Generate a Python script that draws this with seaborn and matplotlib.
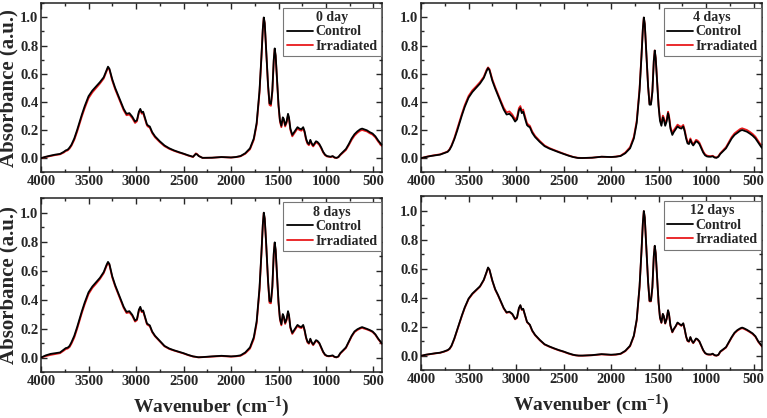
import numpy as np
import pandas as pd
import matplotlib
matplotlib.use('Agg')
import matplotlib.pyplot as plt
from matplotlib.ticker import MultipleLocator
import seaborn as sns

# Wavenumber grid (cm-1)
wavenumber = [
    4000, 3950, 3900, 3850, 3800, 3760, 3740, 3720, 3700, 3680,
    3650, 3620, 3600, 3570, 3540, 3500, 3460, 3420, 3380, 3340,
    3310, 3295, 3280, 3250, 3220, 3190, 3160, 3130, 3100, 3070,
    3040, 3010, 2990, 2970, 2955, 2940, 2925, 2905, 2885, 2870,
    2855, 2830, 2800, 2750, 2700, 2650, 2600, 2550, 2500, 2450,
    2400, 2370, 2355, 2340, 2300, 2200, 2100, 2000, 1950, 1900,
    1850, 1800, 1760, 1730, 1700, 1680, 1665, 1655, 1645, 1630,
    1610, 1595, 1580, 1565, 1550, 1540, 1530, 1515, 1500, 1485,
    1470, 1455, 1445, 1430, 1415, 1400, 1390, 1375, 1355, 1340,
    1320, 1300, 1280, 1260, 1240, 1225, 1210, 1195, 1180, 1165,
    1150, 1135, 1120, 1105, 1090, 1070, 1050, 1030, 1010, 990,
    970, 950, 930, 910, 890, 870, 850, 820, 790, 760,
    730, 700, 670, 640, 620, 600, 570, 540, 510, 480,
    450, 420, 400,
]

# 0 day
control_0 = [
    0.000, 0.010, 0.018, 0.025, 0.030, 0.045, 0.055, 0.060, 0.075, 0.095,
    0.140, 0.200, 0.245, 0.310, 0.370, 0.440, 0.480, 0.510, 0.540, 0.575,
    0.625, 0.650, 0.635, 0.560, 0.500, 0.450, 0.400, 0.350, 0.315, 0.320,
    0.295, 0.260, 0.270, 0.330, 0.350, 0.325, 0.330, 0.285, 0.240, 0.230,
    0.225, 0.185, 0.155, 0.120, 0.090, 0.070, 0.055, 0.043, 0.032, 0.020,
    0.010, 0.030, 0.025, 0.015, 0.002, 0.003, 0.008, 0.005, 0.008, 0.015,
    0.035, 0.070, 0.140, 0.250, 0.480, 0.720, 0.920, 1.000, 0.960, 0.780,
    0.520, 0.390, 0.385, 0.480, 0.700, 0.780, 0.730, 0.560, 0.380, 0.270,
    0.230, 0.290, 0.280, 0.235, 0.260, 0.315, 0.290, 0.210, 0.165, 0.180,
    0.200, 0.220, 0.210, 0.205, 0.220, 0.190, 0.140, 0.110, 0.100, 0.130,
    0.105, 0.090, 0.105, 0.120, 0.115, 0.100, 0.075, 0.045, 0.025, 0.015,
    0.012, 0.010, 0.015, 0.005, 0.002, 0.008, 0.025, 0.045, 0.065, 0.100,
    0.140, 0.170, 0.190, 0.205, 0.210, 0.205, 0.198, 0.185, 0.175, 0.155,
    0.125, 0.100, 0.085,
]
irradiated_0 = [
    0.000, 0.008, 0.015, 0.022, 0.027, 0.040, 0.050, 0.055, 0.068, 0.088,
    0.130, 0.188, 0.232, 0.297, 0.356, 0.426, 0.467, 0.498, 0.530, 0.566,
    0.617, 0.643, 0.628, 0.550, 0.490, 0.440, 0.390, 0.340, 0.305, 0.310,
    0.285, 0.250, 0.262, 0.322, 0.342, 0.316, 0.320, 0.276, 0.232, 0.222,
    0.217, 0.178, 0.148, 0.114, 0.085, 0.066, 0.052, 0.040, 0.030, 0.018,
    0.008, 0.034, 0.028, 0.016, 0.002, 0.003, 0.007, 0.004, 0.007, 0.013,
    0.031, 0.063, 0.130, 0.238, 0.465, 0.710, 0.915, 0.997, 0.955, 0.772,
    0.510, 0.378, 0.372, 0.468, 0.690, 0.772, 0.722, 0.550, 0.370, 0.260,
    0.220, 0.280, 0.270, 0.225, 0.250, 0.305, 0.280, 0.200, 0.155, 0.170,
    0.190, 0.210, 0.200, 0.195, 0.210, 0.180, 0.130, 0.102, 0.092, 0.122,
    0.097, 0.083, 0.097, 0.112, 0.107, 0.093, 0.069, 0.040, 0.021, 0.012,
    0.010, 0.008, 0.012, 0.003, 0.001, 0.006, 0.021, 0.040, 0.058, 0.092,
    0.130, 0.160, 0.180, 0.195, 0.200, 0.196, 0.190, 0.177, 0.167, 0.147,
    0.117, 0.092, 0.078,
]

# 4 days
control_4 = [
    0.000, 0.008, 0.015, 0.020, 0.025, 0.035, 0.040, 0.045, 0.060, 0.085,
    0.135, 0.195, 0.240, 0.305, 0.365, 0.430, 0.470, 0.500, 0.530, 0.570,
    0.620, 0.640, 0.625, 0.550, 0.495, 0.445, 0.395, 0.345, 0.310, 0.315,
    0.295, 0.260, 0.275, 0.340, 0.355, 0.320, 0.330, 0.280, 0.235, 0.225,
    0.220, 0.180, 0.150, 0.115, 0.085, 0.068, 0.055, 0.042, 0.030, 0.018,
    0.008, 0.004, 0.002, 0.001, 0.001, 0.003, 0.010, 0.008, 0.010, 0.015,
    0.035, 0.070, 0.140, 0.250, 0.480, 0.720, 0.920, 1.000, 0.955, 0.770,
    0.510, 0.380, 0.380, 0.470, 0.690, 0.765, 0.710, 0.540, 0.370, 0.265,
    0.230, 0.290, 0.275, 0.230, 0.260, 0.320, 0.290, 0.210, 0.165, 0.185,
    0.205, 0.225, 0.215, 0.210, 0.225, 0.190, 0.140, 0.105, 0.100, 0.130,
    0.105, 0.090, 0.105, 0.120, 0.115, 0.100, 0.070, 0.040, 0.020, 0.012,
    0.010, 0.010, 0.013, 0.004, 0.002, 0.010, 0.030, 0.050, 0.070, 0.105,
    0.140, 0.165, 0.180, 0.195, 0.200, 0.195, 0.188, 0.175, 0.160, 0.140,
    0.110, 0.080, 0.065,
]
irradiated_4 = [
    0.000, 0.009, 0.016, 0.022, 0.027, 0.037, 0.042, 0.048, 0.064, 0.090,
    0.142, 0.204, 0.250, 0.316, 0.377, 0.442, 0.482, 0.510, 0.540, 0.578,
    0.628, 0.645, 0.632, 0.560, 0.505, 0.455, 0.405, 0.358, 0.325, 0.332,
    0.310, 0.275, 0.290, 0.355, 0.370, 0.335, 0.345, 0.295, 0.248, 0.237,
    0.230, 0.190, 0.158, 0.122, 0.090, 0.072, 0.058, 0.045, 0.032, 0.020,
    0.009, 0.005, 0.003, 0.002, 0.001, 0.003, 0.010, 0.008, 0.011, 0.017,
    0.040, 0.078, 0.152, 0.265, 0.495, 0.728, 0.922, 0.998, 0.950, 0.765,
    0.508, 0.385, 0.388, 0.478, 0.695, 0.765, 0.712, 0.548, 0.382, 0.280,
    0.245, 0.302, 0.290, 0.245, 0.272, 0.330, 0.302, 0.224, 0.178, 0.198,
    0.218, 0.238, 0.228, 0.222, 0.236, 0.202, 0.152, 0.116, 0.110, 0.140,
    0.115, 0.100, 0.114, 0.130, 0.125, 0.110, 0.079, 0.048, 0.027, 0.018,
    0.015, 0.014, 0.017, 0.008, 0.005, 0.014, 0.035, 0.057, 0.078, 0.114,
    0.150, 0.176, 0.192, 0.207, 0.212, 0.207, 0.200, 0.187, 0.172, 0.152,
    0.121, 0.090, 0.074,
]

# 8 days
control_8 = [
    0.000, 0.015, 0.025, 0.030, 0.035, 0.055, 0.065, 0.068, 0.080, 0.105,
    0.150, 0.210, 0.255, 0.320, 0.380, 0.450, 0.490, 0.520, 0.550, 0.590,
    0.640, 0.660, 0.645, 0.560, 0.500, 0.450, 0.400, 0.350, 0.315, 0.320,
    0.295, 0.255, 0.265, 0.330, 0.350, 0.320, 0.325, 0.280, 0.235, 0.228,
    0.222, 0.180, 0.150, 0.115, 0.080, 0.062, 0.050, 0.040, 0.030, 0.018,
    0.008, 0.005, 0.003, 0.002, 0.003, 0.008, 0.012, 0.008, 0.010, 0.015,
    0.035, 0.070, 0.140, 0.250, 0.480, 0.720, 0.920, 1.000, 0.960, 0.790,
    0.530, 0.390, 0.385, 0.490, 0.720, 0.795, 0.745, 0.570, 0.385, 0.270,
    0.230, 0.300, 0.285, 0.240, 0.265, 0.320, 0.295, 0.210, 0.170, 0.185,
    0.205, 0.225, 0.215, 0.210, 0.225, 0.190, 0.140, 0.110, 0.100, 0.130,
    0.105, 0.090, 0.105, 0.120, 0.115, 0.100, 0.070, 0.040, 0.020, 0.012,
    0.010, 0.012, 0.015, 0.005, 0.002, 0.008, 0.030, 0.050, 0.070, 0.110,
    0.150, 0.180, 0.195, 0.205, 0.210, 0.205, 0.198, 0.190, 0.180, 0.160,
    0.130, 0.105, 0.090,
]
irradiated_8 = [
    0.000, 0.010, 0.018, 0.024, 0.030, 0.048, 0.058, 0.062, 0.072, 0.095,
    0.138, 0.198, 0.243, 0.308, 0.368, 0.438, 0.480, 0.510, 0.542, 0.582,
    0.632, 0.653, 0.638, 0.552, 0.492, 0.442, 0.392, 0.342, 0.307, 0.312,
    0.288, 0.248, 0.258, 0.322, 0.342, 0.313, 0.318, 0.273, 0.229, 0.222,
    0.216, 0.175, 0.146, 0.111, 0.077, 0.059, 0.048, 0.038, 0.028, 0.016,
    0.007, 0.004, 0.002, 0.001, 0.002, 0.006, 0.010, 0.006, 0.008, 0.012,
    0.030, 0.062, 0.128, 0.236, 0.465, 0.710, 0.915, 0.997, 0.955, 0.782,
    0.520, 0.378, 0.374, 0.478, 0.710, 0.787, 0.737, 0.560, 0.375, 0.262,
    0.222, 0.292, 0.277, 0.232, 0.257, 0.312, 0.287, 0.203, 0.163, 0.178,
    0.198, 0.218, 0.208, 0.203, 0.218, 0.183, 0.134, 0.104, 0.095, 0.125,
    0.100, 0.085, 0.100, 0.115, 0.110, 0.095, 0.066, 0.036, 0.017, 0.010,
    0.008, 0.010, 0.012, 0.003, 0.001, 0.006, 0.027, 0.046, 0.066, 0.105,
    0.145, 0.175, 0.190, 0.200, 0.205, 0.200, 0.194, 0.186, 0.176, 0.156,
    0.126, 0.101, 0.086,
]

# 12 days
control_12 = [
    0.000, 0.008, 0.013, 0.018, 0.022, 0.030, 0.035, 0.040, 0.050, 0.070,
    0.120, 0.180, 0.220, 0.280, 0.335, 0.395, 0.430, 0.455, 0.480, 0.525,
    0.580, 0.610, 0.595, 0.520, 0.460, 0.420, 0.375, 0.330, 0.300, 0.305,
    0.290, 0.255, 0.265, 0.330, 0.350, 0.320, 0.325, 0.280, 0.235, 0.225,
    0.215, 0.175, 0.145, 0.110, 0.080, 0.065, 0.052, 0.040, 0.030, 0.018,
    0.008, 0.004, 0.003, 0.002, 0.002, 0.005, 0.012, 0.008, 0.010, 0.015,
    0.035, 0.070, 0.140, 0.250, 0.480, 0.720, 0.920, 1.000, 0.955, 0.770,
    0.510, 0.380, 0.380, 0.475, 0.690, 0.760, 0.710, 0.540, 0.370, 0.265,
    0.230, 0.290, 0.275, 0.225, 0.255, 0.315, 0.290, 0.210, 0.165, 0.185,
    0.205, 0.230, 0.220, 0.210, 0.225, 0.185, 0.135, 0.105, 0.100, 0.130,
    0.105, 0.090, 0.105, 0.120, 0.115, 0.100, 0.070, 0.040, 0.020, 0.012,
    0.010, 0.010, 0.015, 0.005, 0.002, 0.008, 0.030, 0.045, 0.060, 0.095,
    0.130, 0.160, 0.178, 0.190, 0.195, 0.190, 0.180, 0.168, 0.155, 0.135,
    0.100, 0.075, 0.060,
]
irradiated_12 = [
    0.000, 0.007, 0.012, 0.017, 0.021, 0.028, 0.033, 0.038, 0.047, 0.067,
    0.116, 0.176, 0.216, 0.276, 0.331, 0.391, 0.426, 0.452, 0.477, 0.522,
    0.577, 0.607, 0.592, 0.517, 0.457, 0.417, 0.372, 0.327, 0.297, 0.302,
    0.287, 0.252, 0.262, 0.327, 0.347, 0.317, 0.322, 0.277, 0.232, 0.222,
    0.212, 0.172, 0.142, 0.107, 0.078, 0.063, 0.050, 0.038, 0.028, 0.016,
    0.006, 0.003, 0.002, 0.001, 0.001, 0.004, 0.010, 0.006, 0.008, 0.013,
    0.032, 0.066, 0.135, 0.244, 0.474, 0.716, 0.918, 0.998, 0.952, 0.766,
    0.506, 0.376, 0.376, 0.471, 0.686, 0.757, 0.707, 0.537, 0.367, 0.262,
    0.227, 0.287, 0.272, 0.222, 0.252, 0.312, 0.287, 0.207, 0.162, 0.182,
    0.202, 0.227, 0.217, 0.207, 0.222, 0.182, 0.132, 0.102, 0.097, 0.127,
    0.102, 0.087, 0.102, 0.117, 0.112, 0.097, 0.067, 0.037, 0.018, 0.010,
    0.008, 0.008, 0.012, 0.003, 0.001, 0.006, 0.027, 0.042, 0.057, 0.091,
    0.126, 0.156, 0.174, 0.186, 0.191, 0.186, 0.176, 0.164, 0.151, 0.131,
    0.096, 0.071, 0.056,
]

panel_titles = ['0 day', '4 days', '8 days', '12 days']
controls = [control_0, control_4, control_8, control_12]
irradiated = [irradiated_0, irradiated_4, irradiated_8, irradiated_12]
x_ticks = [4000, 3500, 3000, 2500, 2000, 1500, 1000, 500]
y_ticks = [0.0, 0.2, 0.4, 0.6, 0.8, 1.0]

sns.set_style('ticks')
plt.rcParams['font.family'] = ['Liberation Serif', 'DejaVu Serif']
plt.rcParams['font.weight'] = 'bold'
plt.rcParams['axes.labelweight'] = 'bold'
plt.rcParams['mathtext.fontset'] = 'custom'
plt.rcParams['mathtext.rm'] = 'Liberation Serif:bold'
plt.rcParams['mathtext.it'] = 'Liberation Serif:bold'
plt.rcParams['mathtext.bf'] = 'Liberation Serif:bold'

fig = plt.figure(figsize=(7.67, 4.18), dpi=100)
positions = [
    [0.0535, 0.588, 0.4446, 0.404],
    [0.549, 0.588, 0.4446, 0.404],
    [0.0535, 0.110, 0.4446, 0.416],
    [0.549, 0.114, 0.4446, 0.416],
]

for i, title in enumerate(panel_titles):
    ax = fig.add_axes(positions[i])
    df = pd.DataFrame({
        'wavenumber': wavenumber * 2,
        'absorbance': irradiated[i] + controls[i],
        'sample': ['Irradiated'] * len(wavenumber) + ['Control'] * len(wavenumber),
    })
    sns.lineplot(data=df[df['sample'] == 'Irradiated'], x='wavenumber', y='absorbance',
                 color='#e8191b', linewidth=1.3, ax=ax, label='Irradiated', zorder=2)
    sns.lineplot(data=df[df['sample'] == 'Control'], x='wavenumber', y='absorbance',
                 color='black', linewidth=1.3, ax=ax, label='Control', zorder=3)

    ax.set_xlim(4000, 410)
    ax.set_ylim(-0.1, 1.1)
    ax.set_xticks(x_ticks)
    ax.set_yticks(y_ticks)
    ax.set_yticklabels([f'{v:.1f}' for v in y_ticks])
    ax.xaxis.set_minor_locator(MultipleLocator(250))
    ax.yaxis.set_minor_locator(MultipleLocator(0.1))
    ax.tick_params(which='both', direction='in', top=True, right=True,
                   width=1, labelsize=10.5, pad=2)
    ax.tick_params(which='major', length=4)
    ax.tick_params(which='minor', length=2)
    for s in ax.spines.values():
        s.set_linewidth(1.1)
        s.set_color('#222222')

    if i in (0, 2):
        ax.set_ylabel('Absorbance (a.u.)', fontsize=15, labelpad=1)
    else:
        ax.set_ylabel('')
    if i in (2, 3):
        ax.set_xlabel('Wavenuber (cm$^{-1}$)', fontsize=14, labelpad=5)
    else:
        ax.set_xlabel('')

    handles, labels = ax.get_legend_handles_labels()
    order = [labels.index('Control'), labels.index('Irradiated')]
    leg = ax.legend([handles[k] for k in order], [labels[k] for k in order],
                    title=title, loc='upper right', bbox_to_anchor=(0.997, 0.975),
                    borderaxespad=0, fancybox=False, framealpha=1,
                    edgecolor='#777777', prop={'size': 10, 'weight': 'bold'},
                    title_fontproperties={'size': 10, 'weight': 'bold'},
                    handlelength=1.9, handletextpad=0.15, labelspacing=0.1,
                    borderpad=0.25)
    leg.get_frame().set_linewidth(0.8)

fig.savefig('out.png', dpi=100)
